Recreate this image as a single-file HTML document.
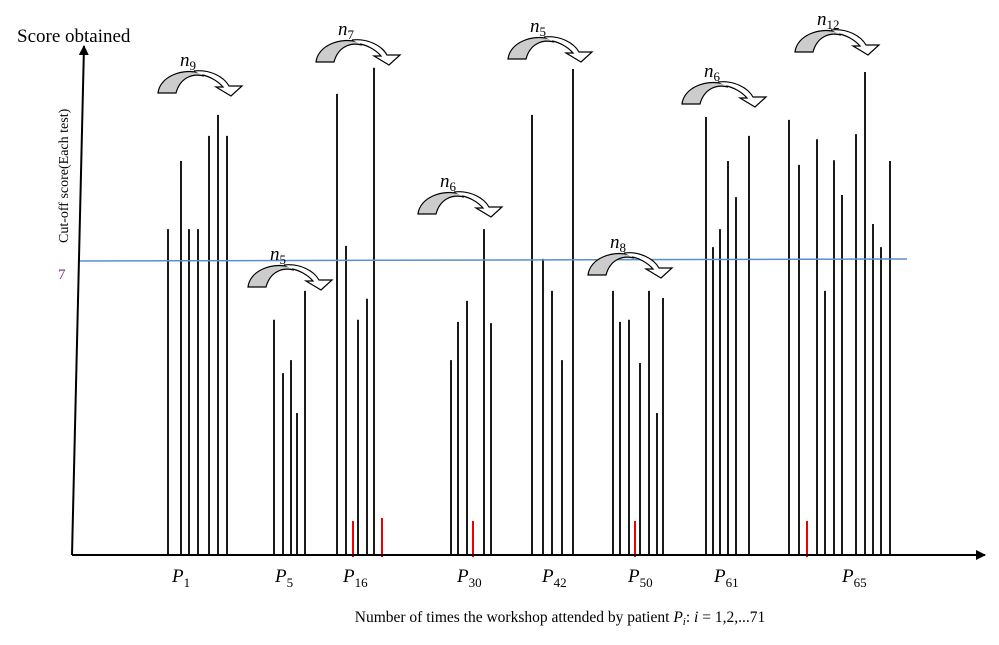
<!DOCTYPE html>
<html><head><meta charset="utf-8"><style>
body{margin:0;background:#fff;}
svg text{font-family:"Liberation Serif",serif;}
</style></head><body>
<svg id="chart" width="999" height="640" viewBox="0 0 999 640" xmlns="http://www.w3.org/2000/svg">
<defs>
<marker id="ah" viewBox="0 0 10 10" refX="9" refY="5" markerWidth="10" markerHeight="10" markerUnits="userSpaceOnUse" orient="auto"><path d="M0,0 L10,5 L0,10 Z" fill="#000"/></marker>
</defs>
<g id="bars"></g>
<line x1="78" y1="261" x2="907" y2="259" stroke="#5b8fd0" stroke-width="1.5"/>
<line x1="72" y1="555" x2="985" y2="555" stroke="#000" stroke-width="2" marker-end="url(#ah)"/>
<line x1="72" y1="555" x2="84" y2="46" stroke="#000" stroke-width="2" marker-end="url(#ah)"/>
<text x="17" y="42" font-size="19">Score obtained</text>
<text transform="translate(68,243) rotate(-90)" font-size="14">Cut-off score(Each test)</text>
<text x="58" y="279" font-size="15" fill="#7a2a7a">7</text>
<text x="560" y="622" font-size="15.5" text-anchor="middle">Number of times the workshop attended by patient <tspan font-style="italic">P<tspan font-size="11" dy="3">i</tspan></tspan><tspan dy="-3">: </tspan><tspan font-style="italic">i</tspan> = 1,2,...71</text>
<g id="plabels"></g>
<g id="arrows"></g>
</svg>
<script>
const groupXs = [
 [98,111,119,128,139,148,157],
 [204,213,221,227,235],
 [267,276,288,297,304],
 [381,388,397,414,421],
 [462,473,482,492,503],
 [543,550,559,570,579,587,593],
 [636,643,650,658,666,679],
 [719,729,747,755,764,772,786,795,803,811,820]
];
const groupValues = [
 [7.76,9.38,7.76,7.76,9.98,10.48,9.98],
 [5.6,4.33,4.64,3.38,6.29],
 [10.98,7.36,5.6,6.1,11.6],
 [4.64,5.55,6.05,7.76,5.52],
 [10.48,7.05,6.29,4.64,11.57],
 [6.29,5.55,5.6,4.57,6.29,3.38,6.12],
 [10.43,7.33,7.76,9.38,8.52,9.98],
 [10.36,9.29,9.9,6.29,9.4,8.57,10.02,11.5,7.88,7.33,9.38]
];
const redXs = [283,312,403,565,737];
const redValues = [0.81,0.88,0.81,0.81,0.81];
const patientLabels = ["1","5","16","30","42","50","61","65"];
const patientLabelXs = [102,205,273,387,472,558,644,772];
const groupCounts = ["9","5","7","6","5","8","6","12"];
const NS="http://www.w3.org/2000/svg";
const x0=70, y0=555, pxPerUnit=42;
const xS = v => x0 + v;
const yS = v => y0 - v*pxPerUnit;
const bars=document.getElementById('bars');
groupXs.forEach((xs,g)=>{
  xs.forEach((xv,i)=>{
    const l=document.createElementNS(NS,'line');
    
    
    l.setAttribute('x1',xS(xv));l.setAttribute('x2',xS(xv));
    l.setAttribute('y1',y0);l.setAttribute('y2',yS(groupValues[g][i]));
    l.setAttribute('stroke','#000');l.setAttribute('stroke-width','1.8');
    bars.appendChild(l);
  });
});
redXs.forEach((xv,i)=>{
  const l=document.createElementNS(NS,'line');
  
  
  l.setAttribute('x1',xS(xv));l.setAttribute('x2',xS(xv));
  l.setAttribute('y1',y0+2);l.setAttribute('y2',yS(redValues[i]));
  l.setAttribute('stroke','#e00');l.setAttribute('stroke-width','2');
  bars.appendChild(l);
});
const pl=document.getElementById('plabels');
patientLabels.forEach((s,i)=>{
  const t=document.createElementNS(NS,'text');
  
  
  t.setAttribute('x',xS(patientLabelXs[i]));t.setAttribute('y',582);
  t.setAttribute('font-size','19');t.setAttribute('font-style','italic');
  t.innerHTML='P<tspan font-size="13" dy="5" font-style="normal">'+s+'</tspan>';
  pl.appendChild(t);
});
const arrowPos=[[158,71],[248,265],[316,40],[418,192],[508,37],[588,253],[682,82],[795,30]];
const ar=document.getElementById('arrows');
arrowPos.forEach((p,i)=>{
  const g=document.createElementNS(NS,'g');
  
  
  g.setAttribute('transform','translate('+p[0]+','+p[1]+')');
  g.innerHTML='<path d="M0,22 C2,5 25,-3 42,2 L46,5 C34,2 22,7 18,22 Z" fill="#ccc" stroke="#000" stroke-width="1.2"/>'+
   '<path d="M36,0 C52,-2 66,6 71,15 L84,15 L73,25 L58,16 L65,16 C59,9 50,5 44,4" fill="#fff" stroke="#000" stroke-width="1.2"/>'+
   '<text x="22" y="-5" font-size="19" font-style="italic">n<tspan font-size="13" dy="4" font-style="normal">'+groupCounts[i]+'</tspan></text>';
  ar.appendChild(g);
});
</script>
</body></html>
